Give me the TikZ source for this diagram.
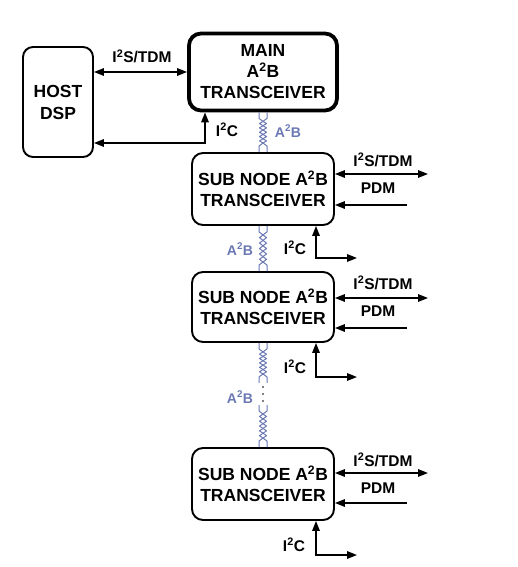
\documentclass[tikz,border=0pt]{standalone}
\usepackage{fontspec}
\setmainfont{Liberation Sans}
\usepackage{tikz}
\usetikzlibrary{arrows.meta, calc, positioning}
\definecolor{pairblue}{RGB}{106,120,180}
\newcommand{\supt}{\textsuperscript{2}}
% twisted pair between two points on one vertical axis
\newcommand{\twistpair}[3][10]{%
  \coordinate (tpa) at ($(#2)+(0,9)$);
  \coordinate (tpb) at ($(#3)+(0,-9)$);
  \foreach \s in {-1,1}
    \draw[pairline] ($(#2)+(4*\s,0)$) -- ($(#2)+(4*\s,6)$) -- (tpa)
      \foreach \k in {1,...,#1} { -- ($(tpa)!\k/#1!(tpb)+({-3.5*\s*sin(90*\k)},0)$) }
      -- ($(#3)+(4*\s,-6)$) -- ($(#3)+(4*\s,0)$);
}
\tikzset{
  nodebox/.style={
    draw, rounded corners=11pt, line width=1.9pt, align=center,
    font=\bfseries\fontsize{17.5}{21}\selectfont, fill=white, inner sep=0pt
  },
  mainbox/.style={
    nodebox, line width=3.8pt, rounded corners=12pt
  },
  busarrow/.style={
    -{Triangle[length=10pt,width=7.5pt]}, line width=1.6pt
  },
  bibusarrow/.style={
    {Triangle[length=10pt,width=7.5pt]}-{Triangle[length=10pt,width=7.5pt]},
    line width=1.6pt
  },
  buslabel/.style={
    font=\bfseries\fontsize{15.5}{18}\selectfont, inner sep=0pt, anchor=base
  },
  pairlabel/.style={
    font=\bfseries\fontsize{14}{16}\selectfont, text=pairblue,
    inner sep=0pt, anchor=base
  },
  pairline/.style={draw=pairblue, line width=1pt, line join=round},
}

\begin{document}
\begin{tikzpicture}[x=1pt, y=-1pt]
  \useasboundingbox (0,0) rectangle (517,567);

  % ---- HOST AND MAIN NODE ----
  \node[nodebox, rounded corners=10pt, minimum width=70pt, minimum height=110pt,
    font=\bfseries\fontsize{17.5}{22}\selectfont]
    (host) at (58,102) {HOST\\DSP};
  \node[mainbox, minimum width=148pt, minimum height=77pt]
    (main) at (263,72) {MAIN\\A\supt B\\TRANSCEIVER};

  % I2S/TDM between host and main
  \draw[bibusarrow] (host.east |- main.west) -- (main.west);
  \node[buslabel] (htdm) at (142,63) {I\supt S/TDM};

  % I2C from host up into main
  \coordinate (hi2c) at (205,143);
  \draw[bibusarrow] (host.east |- hi2c) -- (hi2c) -- (hi2c |- main.south);
  \node[buslabel] (hi2clbl) at (227,136) {I\supt C};

  % ---- SUB NODES ----
  \node[nodebox, minimum width=142pt, minimum height=72pt]
    (s1) at (263,189) {SUB NODE A\supt B\\TRANSCEIVER};
  \node[nodebox, minimum width=142pt, minimum height=70pt]
    (s2) at (263,307) {SUB NODE A\supt B\\TRANSCEIVER};
  \node[nodebox, minimum width=142pt, minimum height=72pt]
    (s3) at (263,484) {SUB NODE A\supt B\\TRANSCEIVER};

  % ---- A2B BUS ----
  \twistpair{main.south}{s1.north}
  \node[pairlabel] (a2b1) at (288,137) {A\supt B};

  \twistpair{s1.south}{s2.north}
  \node[pairlabel] (a2b2) at (240,255) {A\supt B};

  % broken run down to the last sub node
  \coordinate (cut1) at ($(s2.south)+(0,40)$);
  \coordinate (cut2) at ($(s3.north)+(0,-42)$);
  \twistpair{s2.south}{cut1}
  \twistpair{cut2}{s3.north}
  \foreach \t in {0.18,0.5,0.82}
    \fill ($(cut1)!\t!(cut2)$) circle (0.9pt);
  \node[pairlabel] (a2b3) at (240,403) {A\supt B};

  % ---- SUB NODE 1 PORTS ----
  \coordinate (s1tdm) at (428,174);
  \draw[bibusarrow] (s1.east |- s1tdm) -- (s1tdm);
  \node[buslabel] (s1tdmlbl) at (383,166) {I\supt S/TDM};
  \coordinate (s1pdm) at (407,205);
  \draw[busarrow] (s1pdm) -- (s1.east |- s1pdm);
  \node[buslabel] (s1pdmlbl) at (378,193) {PDM};
  \coordinate (s1i2c) at (316,258);
  \coordinate (s1i2cend) at (357,258);
  \draw[bibusarrow] (s1.south -| s1i2c) -- (s1i2c) -- (s1i2cend);
  \node[buslabel] (s1i2clbl) at (295,254) {I\supt C};

  % ---- SUB NODE 2 PORTS ----
  \coordinate (s2tdm) at (428,298);
  \draw[bibusarrow] (s2.east |- s2tdm) -- (s2tdm);
  \node[buslabel] (s2tdmlbl) at (383,289) {I\supt S/TDM};
  \coordinate (s2pdm) at (407,328);
  \draw[busarrow] (s2pdm) -- (s2.east |- s2pdm);
  \node[buslabel] (s2pdmlbl) at (378,316) {PDM};
  \coordinate (s2i2c) at (316,377);
  \coordinate (s2i2cend) at (357,377);
  \draw[bibusarrow] (s2.south -| s2i2c) -- (s2i2c) -- (s2i2cend);
  \node[buslabel] (s2i2clbl) at (295,373) {I\supt C};

  % ---- SUB NODE 3 PORTS ----
  \coordinate (s3tdm) at (428,473);
  \draw[bibusarrow] (s3.east |- s3tdm) -- (s3tdm);
  \node[buslabel] (s3tdmlbl) at (383,466) {I\supt S/TDM};
  \coordinate (s3pdm) at (407,503);
  \draw[busarrow] (s3pdm) -- (s3.east |- s3pdm);
  \node[buslabel] (s3pdmlbl) at (378,493) {PDM};
  \coordinate (s3i2c) at (316,555);
  \coordinate (s3i2cend) at (357,555);
  \draw[bibusarrow] (s3.south -| s3i2c) -- (s3i2c) -- (s3i2cend);
  \node[buslabel] (s3i2clbl) at (294,551) {I\supt C};
\end{tikzpicture}
\end{document}
